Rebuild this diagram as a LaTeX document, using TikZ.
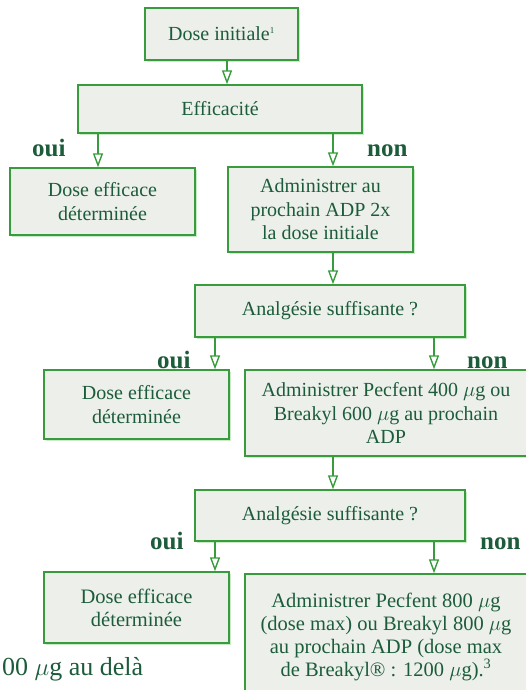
\documentclass[tikz,border=0pt]{standalone}
\usepackage{fontspec}
\setmainfont{Liberation Serif}
\usepackage{tikz}
\usetikzlibrary{arrows.meta,shadows,positioning}

\definecolor{boxline}{RGB}{56,156,60}
\definecolor{boxfill}{RGB}{237,240,234}
\definecolor{boxtext}{RGB}{28,92,58}
\definecolor{boxglow}{RGB}{196,232,196}

\begin{document}
\begin{tikzpicture}[x=1pt, y=-1pt,
    box/.style={draw=boxline, line width=1.4pt, fill=boxfill, text=boxtext, align=center,
        font=\fontsize{20}{23.5}\selectfont, inner sep=0pt,
        drop shadow={shadow xshift=2pt, shadow yshift=-2pt, fill=boxglow, opacity=0.9}},
    lowbox/.style={box, font=\fontsize{20.5}{22.8}\selectfont},
    answer/.style={text=boxtext, font=\fontsize{25}{25}\selectfont\bfseries, inner sep=0pt, anchor=base west},
    arr/.style={draw=boxline, line width=1.4pt, -{Triangle[open, length=14pt, width=10pt]}}]
    \useasboundingbox (0,0) rectangle (526,690);
    \clip (0,0) rectangle (526,690);

    % Boxes
    \node[box, minimum width=153pt, minimum height=52pt] (init) at (221.5,34) {Dose initiale\textsuperscript{\fontsize{9}{9}\selectfont 1}};
    \node[box, minimum width=284pt, minimum height=48pt] (eff) at (220,109) {Efficacité};
    \node[box, minimum width=185pt, minimum height=67pt] (ok1) at (102.5,201.5) {Dose efficace\\déterminée};
    \node[box, minimum width=185pt, minimum height=85pt] (adm1) at (320.5,209.5) {Administrer au\\prochain ADP 2x\\la dose initiale};
    \node[box, minimum width=270pt, minimum height=52pt] (ana1) at (330,311) {Analgésie suffisante ?};
    \node[box, minimum width=185pt, minimum height=69pt] (ok2) at (136.5,404.5) {Dose efficace\\déterminée};
    \node[box, minimum width=282pt, minimum height=86pt] (adm2) at (386,413) {Administrer Pecfent 400 $\mu$g ou\\Breakyl 600 $\mu$g au prochain\\ADP};
    \node[box, minimum width=270pt, minimum height=51pt] (ana2) at (330,515.5) {Analgésie suffisante ?};
    \node[lowbox, minimum width=185pt, minimum height=71pt] (ok3) at (136.5,607.5) {Dose efficace\\déterminée};
    \node[lowbox, minimum width=282pt, minimum height=126pt] (adm3) at (386,637) {Administrer Pecfent 800 $\mu$g\\(dose max) ou Breakyl 800 $\mu$g\\au prochain ADP (dose max\\de Breakyl® : 1200 $\mu$g).\textsuperscript{3}};

    % Answers
    \node[answer] (oui1) at (32,156) {oui};
    \node[answer] (non1) at (367,156) {non};
    \node[answer] (oui2) at (157,368) {oui};
    \node[answer] (non2) at (467,368) {non};
    \node[answer] (oui3) at (150,549) {oui};
    \node[answer] (non3) at (480,549) {non};

    % Cut text at the bottom
    \node[text=boxtext, font=\fontsize{26}{26}\selectfont, inner sep=0pt, anchor=base west] (cut) at (2,675) {00 $\mu$g au delà};

    % Arrow columns
    \coordinate (xa) at (227,0);
    \coordinate (xb) at (98,0);
    \coordinate (xc) at (333,0);
    \coordinate (xd) at (215,0);
    \coordinate (xf) at (434,0);

    % Connections
    \draw[arr] (init.south -| xa) -- (eff.north -| xa);
    \draw[arr] (eff.south -| xb) -- (ok1.north -| xb);
    \draw[arr] (eff.south -| xc) -- (adm1.north -| xc);
    \draw[arr] (adm1.south -| xc) -- (ana1.north -| xc);
    \draw[arr] (ana1.south -| xd) -- (ok2.north -| xd);
    \draw[arr] (ana1.south -| xf) -- (adm2.north -| xf);
    \draw[arr] (adm2.south -| xc) -- (ana2.north -| xc);
    \draw[arr] (ana2.south -| xd) -- (ok3.north -| xd);
    \draw[arr] (ana2.south -| xf) -- (adm3.north -| xf);
\end{tikzpicture}
\end{document}
